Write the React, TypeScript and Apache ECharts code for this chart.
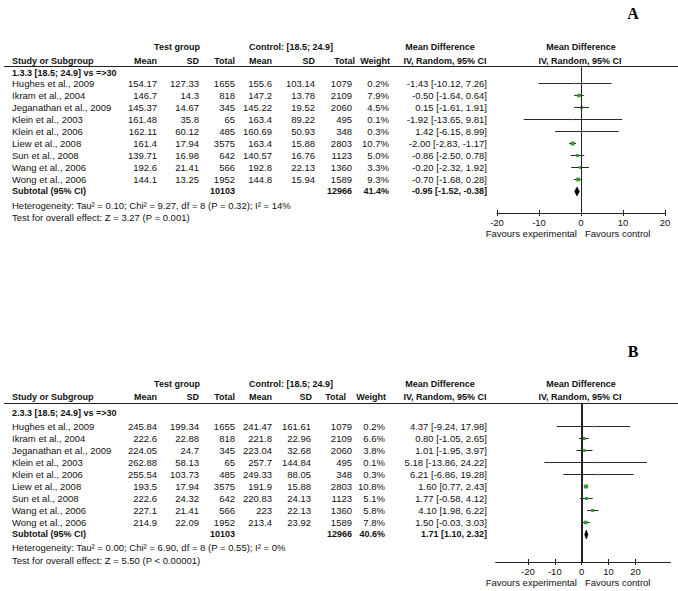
import React, { useEffect, useRef } from "react";
import * as echarts from "echarts";

// ---------- data ----------
const studies = [
  "Hughes et al., 2009",
  "Ikram et al., 2004",
  "Jeganathan et al., 2009",
  "Klein et al., 2003",
  "Klein et al., 2006",
  "Liew et al., 2008",
  "Sun et al., 2008",
  "Wang et al., 2006",
  "Wong et al., 2006",
];
const testTotal = [1655, 818, 345, 65, 485, 3575, 642, 566, 1952];
const ctrlTotal = [1079, 2109, 2060, 495, 348, 2803, 1123, 1360, 1589];
const testSum = 10103;
const ctrlSum = 12966;

// Panel A
const aSubgroup = "1.3.3 [18.5; 24.9] vs =>30";
const aTestMean = [154.17, 146.7, 145.37, 161.48, 162.11, 161.4, 139.71, 192.6, 144.1];
const aTestSD = [127.33, 14.3, 14.67, 35.8, 60.12, 17.94, 16.98, 21.41, 13.25];
const aCtrlMean = [155.6, 147.2, 145.22, 163.4, 160.69, 163.4, 140.57, 192.8, 144.8];
const aCtrlSD = [103.14, 13.78, 19.52, 89.22, 50.93, 15.88, 16.76, 22.13, 15.94];
const aWeight = [0.2, 7.9, 4.5, 0.1, 0.3, 10.7, 5.0, 3.3, 9.3];
const aMD = [-1.43, -0.5, 0.15, -1.92, 1.42, -2.0, -0.86, -0.2, -0.7];
const aLo = [-10.12, -1.64, -1.61, -13.65, -6.15, -2.83, -2.5, -2.32, -1.68];
const aHi = [7.26, 0.64, 1.91, 9.81, 8.99, -1.17, 0.78, 1.92, 0.28];
const aTotal = { weight: 41.4, md: -0.95, lo: -1.52, hi: -0.38 };
const aHet = "Heterogeneity: Tau² = 0.10; Chi² = 9.27, df = 8 (P = 0.32); I² = 14%";
const aTest = "Test for overall effect: Z = 3.27 (P = 0.001)";

// Panel B
const bSubgroup = "2.3.3 [18.5; 24.9] vs =>30";
const bTestMean = [245.84, 222.6, 224.05, 262.88, 255.54, 193.5, 222.6, 227.1, 214.9];
const bTestSD = [199.34, 22.88, 24.7, 58.13, 103.73, 17.94, 24.32, 21.41, 22.09];
const bCtrlMean = [241.47, 221.8, 223.04, 257.7, 249.33, 191.9, 220.83, 223, 213.4];
const bCtrlSD = [161.61, 22.96, 32.68, 144.84, 88.05, 15.88, 24.13, 22.13, 23.92];
const bWeight = [0.2, 6.6, 3.8, 0.1, 0.3, 10.8, 5.1, 5.8, 7.8];
const bMD = [4.37, 0.8, 1.01, 5.18, 6.21, 1.6, 1.77, 4.1, 1.5];
const bLo = [-9.24, -1.05, -1.95, -13.86, -6.86, 0.77, -0.58, 1.98, -0.03];
const bHi = [17.98, 2.65, 3.97, 24.22, 19.28, 2.43, 4.12, 6.22, 3.03];
const bTotal = { weight: 40.6, md: 1.71, lo: 1.1, hi: 2.32 };
const bHet = "Heterogeneity: Tau² = 0.00; Chi² = 6.90, df = 8 (P = 0.55); I² = 0%";
const bTest = "Test for overall effect: Z = 5.50 (P < 0.00001)";

const tickValues = [-20, -10, 0, 10, 20];
const nullEffect = 0;

// ---------- styling / layout ----------
const FONT = '"Liberation Sans", Arial, Helvetica, sans-serif';
const REG = `9.5px ${FONT}`;
const BOLD = `bold 9px ${FONT}`;
const INK = "#111111";
const GREEN = "#2f9e2f";
const ROW_H = 12;

const panels = [
  {
    letter: "A", letterY: 13,
    h1: 47, h2: 61, lineY: 66, labelY: 73, firstRowY: 83, axisY: 213,
    hetY: 205, testY: 217, favY: 233,
    sdHead: 315, sdRight: 315, totHead: 355, weightHead: 390, weightRight: 389,
    xMin: -20, xMax: 20, gridLeft: 497, gridWidth: 168,
    subgroup: aSubgroup, tm: aTestMean, tsd: aTestSD, cm: aCtrlMean, csd: aCtrlSD,
    w: aWeight, md: aMD, lo: aLo, hi: aHi, tot: aTotal, het: aHet, test: aTest,
  },
  {
    letter: "B", letterY: 351,
    h1: 384, h2: 397, lineY: 403, labelY: 413, firstRowY: 426, axisY: 562,
    hetY: 547, testY: 560, favY: 582,
    sdHead: 312, sdRight: 311, totHead: 346, weightHead: 386, weightRight: 385,
    xMin: -32, xMax: 33, gridLeft: 495.6, gridWidth: 174.9,
    subgroup: bSubgroup, tm: bTestMean, tsd: bTestSD, cm: bCtrlMean, csd: bCtrlSD,
    w: bWeight, md: bMD, lo: bLo, hi: bHi, tot: bTotal, het: bHet, test: bTest,
  },
];

const yRange = (p: any) => [(p.lineY - p.firstRowY) / ROW_H, (p.axisY - p.firstRowY) / ROW_H];

function txt(text: string, x: number, y: number, align: string, font: string = REG, fill: string = INK) {
  return {
    type: "text",
    x,
    y,
    silent: true,
    style: {
      text,
      x: 0,
      y: 0,
      font,
      fill,
      textAlign: align,
      align,
      textVerticalAlign: "middle",
      verticalAlign: "middle",
    },
  };
}

// zeroOffsets: per panel, offset (px) of the y axis from the grid's left edge so its line sits on x = 0
function buildOption(zeroOffsets: (number | null)[]) {
  const graphics: any[] = [];
  const grids: any[] = [];
  const xAxes: any[] = [];
  const yAxes: any[] = [];
  const series: any[] = [];

  panels.forEach((p, pi) => {
    graphics.push(txt(p.letter, 633, p.letterY, "center", `bold 16px "Liberation Serif", "Times New Roman", serif`, "#000"));
    graphics.push(txt("Test group", 177, p.h1, "center", BOLD));
    graphics.push(txt("Control: [18.5; 24.9]", 291, p.h1, "center", BOLD));
    graphics.push(txt("Mean Difference", 440, p.h1, "center", BOLD));
    graphics.push(txt("Mean Difference", 581, p.h1, "center", BOLD));
    graphics.push(txt("Study or Subgroup", 12, p.h2, "left", BOLD));
    graphics.push(txt("Mean", 157, p.h2, "right", BOLD));
    graphics.push(txt("SD", 199, p.h2, "right", BOLD));
    graphics.push(txt("Total", 235, p.h2, "right", BOLD));
    graphics.push(txt("Mean", 272, p.h2, "right", BOLD));
    graphics.push(txt("SD", p.sdHead, p.h2, "right", BOLD));
    graphics.push(txt("Total", p.totHead, p.h2, "right", BOLD));
    graphics.push(txt("Weight", p.weightHead, p.h2, "right", BOLD));
    graphics.push(txt("IV, Random, 95% CI", 445, p.h2, "center", BOLD));
    graphics.push(txt("IV, Random, 95% CI", 580, p.h2, "center", BOLD));
    graphics.push({
      type: "line",
      silent: true,
      shape: { x1: 4, y1: p.lineY + 0.5, x2: 678, y2: p.lineY + 0.5 },
      style: { stroke: "#222", lineWidth: 1 },
    });
    graphics.push(txt(p.subgroup, 12, p.labelY, "left", BOLD));
    studies.forEach((s, i) => {
      const y = p.firstRowY + i * ROW_H;
      graphics.push(txt(s, 12, y, "left"));
      graphics.push(txt(String(p.tm[i]), 157, y, "right"));
      graphics.push(txt(String(p.tsd[i]), 199, y, "right"));
      graphics.push(txt(String(testTotal[i]), 235, y, "right"));
      graphics.push(txt(String(p.cm[i]), 272, y, "right"));
      graphics.push(txt(String(p.csd[i]), p.sdRight, y, "right"));
      graphics.push(txt(String(ctrlTotal[i]), 352, y, "right"));
      graphics.push(txt(p.w[i].toFixed(1) + "%", p.weightRight, y, "right"));
      graphics.push(
        txt(`${p.md[i].toFixed(2)} [${p.lo[i].toFixed(2)}, ${p.hi[i].toFixed(2)}]`, 487, y, "right")
      );
    });
    const sy = p.firstRowY + studies.length * ROW_H;
    graphics.push(txt("Subtotal (95% CI)", 12, sy, "left", BOLD));
    graphics.push(txt(String(testSum), 235, sy, "right", BOLD));
    graphics.push(txt(String(ctrlSum), 352, sy, "right", BOLD));
    graphics.push(txt(p.tot.weight.toFixed(1) + "%", p.weightRight, sy, "right", BOLD));
    graphics.push(
      txt(`${p.tot.md.toFixed(2)} [${p.tot.lo.toFixed(2)}, ${p.tot.hi.toFixed(2)}]`, 487, sy, "right", BOLD)
    );
    graphics.push(txt(p.het, 12, p.hetY, "left"));
    graphics.push(txt(p.test, 12, p.testY, "left"));
    graphics.push(txt("Favours experimental", 577, p.favY, "right"));
    graphics.push(txt("Favours control", 585, p.favY, "left"));

    grids.push({
      left: p.gridLeft,
      width: p.gridWidth,
      top: p.lineY,
      height: p.axisY - p.lineY,
      containLabel: false,
    });
    const commonX = {
      type: "value",
      gridIndex: pi,
      min: p.xMin,
      max: p.xMax,
      position: "bottom",
      splitLine: { show: false },
    };
    xAxes.push({
      ...commonX,
      axisLine: { show: true, onZero: false, lineStyle: { color: "#222", width: 1 } },
      axisTick: {
        show: true,
        customValues: tickValues,
        length: 3,
        lineStyle: { color: "#222", width: 1 },
      },
      axisLabel: {
        show: true,
        customValues: tickValues,
        margin: 4,
        color: INK,
        fontSize: 9.5,
        fontFamily: FONT,
        showMinLabel: true,
        showMaxLabel: true,
      },
    });
    xAxes.push({
      ...commonX,
      axisLine: { show: false, onZero: false },
      axisTick: {
        show: true,
        inside: true,
        customValues: tickValues,
        length: 3,
        lineStyle: { color: "#222", width: 1 },
      },
      axisLabel: { show: false },
    });
    const [yMin, yMax] = yRange(p);
    const off = zeroOffsets[pi];
    yAxes.push({
      type: "value",
      gridIndex: pi,
      inverse: true,
      min: yMin,
      max: yMax,
      position: "left",
      offset: off == null ? 0 : -off,
      axisLine: { show: off != null, onZero: false, lineStyle: { color: "#222", width: 1 } },
      axisTick: { show: false },
      axisLabel: { show: false },
      splitLine: { show: false },
    });

    // kind: 0 = study, 1 = subtotal diamond, 2 = line of no effect
    const data: any[] = studies.map((_, i) => [p.md[i], i, p.lo[i], p.hi[i], p.w[i], 0]);
    data.push([p.tot.md, studies.length, p.tot.lo, p.tot.hi, p.tot.weight, 1]);
    data.push([nullEffect, 0, yMin, yMax, 0, 2]);

    series.push({
      type: "custom",
      xAxisIndex: pi * 2,
      yAxisIndex: pi,
      clip: false,
      silent: true,
      data,
      z: 3,
      renderItem: (params: any, api: any) => {
        const md = api.value(0);
        const row = api.value(1);
        const a = api.value(2);
        const b = api.value(3);
        const w = api.value(4);
        const kind = api.value(5);
        if (kind === 2) {
          const top = api.coord([md, a]);
          const bot = api.coord([md, b]);
          const xx = Math.round(top[0]) + 0.5;
          return {
            type: "polyline",
            shape: { points: [[xx, top[1]], [xx, (top[1] + bot[1]) / 2], [xx, bot[1]]] },
            style: { stroke: "#222", lineWidth: 1, fill: "none" },
          };
        }
        const c = api.coord([md, row]);
        const l = api.coord([a, row]);
        const h = api.coord([b, row]);
        const yy = Math.round(c[1]) + 0.5;
        if (kind === 1) {
          return {
            type: "polygon",
            shape: {
              points: [
                [l[0], yy],
                [c[0], yy - 4.5],
                [h[0], yy],
                [c[0], yy + 4.5],
              ],
            },
            style: { fill: "#000", stroke: "#000", lineWidth: 0.6 },
          };
        }
        const s = 1 + Math.sqrt(w) * 0.9;
        return {
          type: "group",
          children: [
            {
              type: "line",
              shape: { x1: l[0], y1: yy, x2: h[0], y2: yy },
              style: { stroke: "#2a2a2a", lineWidth: 1 },
            },
            {
              type: "rect",
              shape: { x: c[0] - s / 2, y: yy - s / 2, width: s, height: s },
              style: { fill: GREEN },
            },
          ],
        };
      },
    });
  });

  return {
    animation: false,
    backgroundColor: "#ffffff",
    grid: grids,
    xAxis: xAxes,
    yAxis: yAxes,
    series,
    graphic: { elements: graphics },
  };
}

export default function App() {
  const ref = useRef<HTMLDivElement>(null);
  useEffect(() => {
    if (!ref.current) return;
    const chart = echarts.init(ref.current, undefined, { renderer: "svg" });
    chart.setOption(buildOption([null, null]) as any);
    // place each plot's y-axis line on the line of no effect, via the library's scale
    const offsets = panels.map((p, pi) => {
      const px = chart.convertToPixel({ xAxisIndex: pi * 2 } as any, nullEffect) as any;
      return typeof px === "number" && isFinite(px) ? Math.round(px - p.gridLeft) : null;
    });
    chart.setOption(buildOption(offsets) as any, true);
    return () => chart.dispose();
  }, []);
  return (
    <div
      ref={ref}
      style={{ position: "fixed", left: 0, top: 0, width: 678, height: 591, background: "#fff" }}
    />
  );
}
